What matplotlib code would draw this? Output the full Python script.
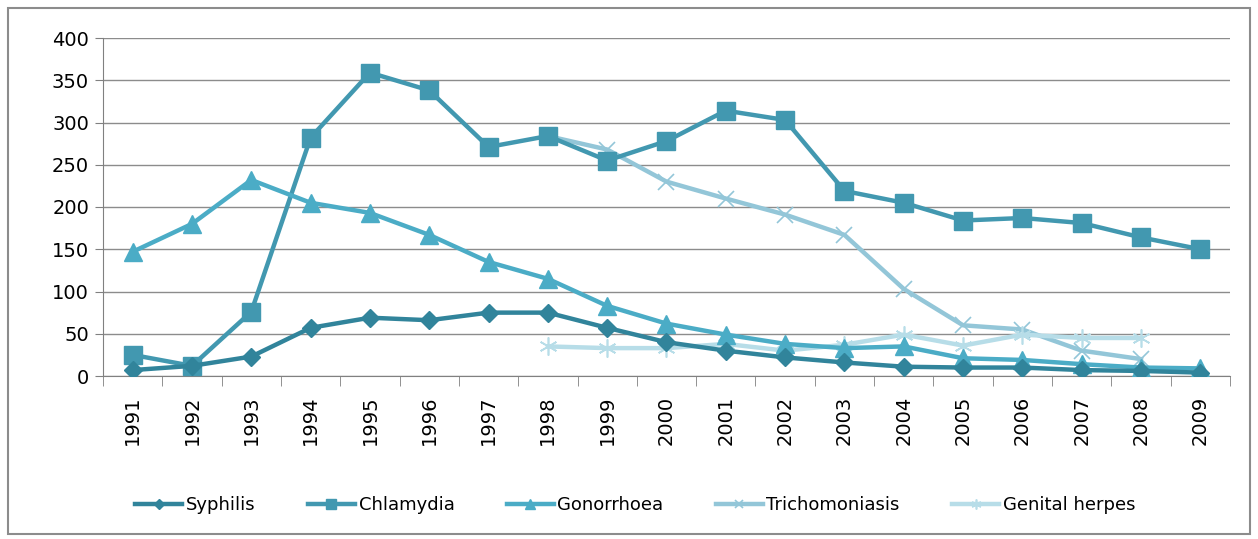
import matplotlib
matplotlib.use("Agg")
import matplotlib.pyplot as plt
from matplotlib.patches import Rectangle
import numpy as np

years = [str(y) for y in range(1991, 2010)]

syphilis = [7, 12, 23, 57, 69, 66, 75, 75, 57, 40, 30, 22, 16, 11, 10, 10, 7, 6, 4]
chlamydia = [25, 12, 76, 282, 359, 338, 271, 284, 255, 278, 314, 303, 219, 205, 184, 187, 181, 164, 150]
gonorrhoea = [147, 180, 232, 205, 193, 167, 135, 115, 83, 62, 49, 38, 33, 35, 21, 19, 14, 10, 9]
# Trichomoniasis and genital herpes only reported 1998-2008
trich_years = years[7:18]
trichomoniasis = [284, 268, 230, 210, 191, 167, 103, 60, 55, 30, 20]
herpes = [35, 33, 33, 38, 30, 37, 49, 36, 49, 45, 45]

fig = plt.figure(figsize=(12.58, 5.39), dpi=100)
fig.patches.append(Rectangle((8 / 1258, 0.01), 1242 / 1258, 0.975, transform=fig.transFigure,
                             fill=False, edgecolor="#8c8c8c", linewidth=1.5))

ax = fig.add_axes([103 / 1258, 1 - 376 / 539, 1127 / 1258, 338 / 539])

x = np.arange(len(years))
xt = np.arange(7, 18)

ax.plot(x, syphilis, color="#31849B", lw=3.2, marker="D", ms=9, label="Syphilis", zorder=5)
ax.plot(x, chlamydia, color="#4298B0", lw=3.2, marker="s", ms=13, label="Chlamydia", zorder=4)
ax.plot(x, gonorrhoea, color="#4BACC6", lw=3.2, marker="^", ms=13, label="Gonorrhoea", zorder=4)
ax.plot(xt, trichomoniasis, color="#93C6D8", lw=3.2, marker="x", ms=11, mew=1.2,
        label="Trichomoniasis", zorder=3)
ax.plot(xt, herpes, color="#B7DDE8", lw=3.2, marker=(6, 2, 0), ms=13, mew=1.2,
        label="Genital herpes", zorder=3)

ax.set_xlim(-0.5, len(years) - 0.5)
ax.set_ylim(0, 400)
ax.set_yticks(range(0, 401, 50))
ax.set_xticks(x)
ax.set_xticklabels(years, rotation=90, fontsize=14)
ax.set_xticks(np.arange(-0.5, len(years), 1), minor=True)
ax.tick_params(axis="x", which="major", length=0, pad=14)
ax.tick_params(axis="x", which="minor", length=7, color="#808080", direction="out")
ax.tick_params(axis="y", length=6, color="#808080", labelsize=14, pad=4)
ax.yaxis.grid(True, color="#8c8c8c", lw=1)
ax.set_axisbelow(True)
for s in ["top", "right"]:
    ax.spines[s].set_visible(False)
ax.spines["left"].set_color("#808080")
ax.spines["bottom"].set_color("#808080")

fig.legend(loc="center", bbox_to_anchor=(0.505, 1 - 505 / 539), ncol=5, frameon=False,
           fontsize=13, markerscale=0.55, handlelength=2.6, columnspacing=2.9, handletextpad=0.2)

fig.savefig("out.png", dpi=100)
